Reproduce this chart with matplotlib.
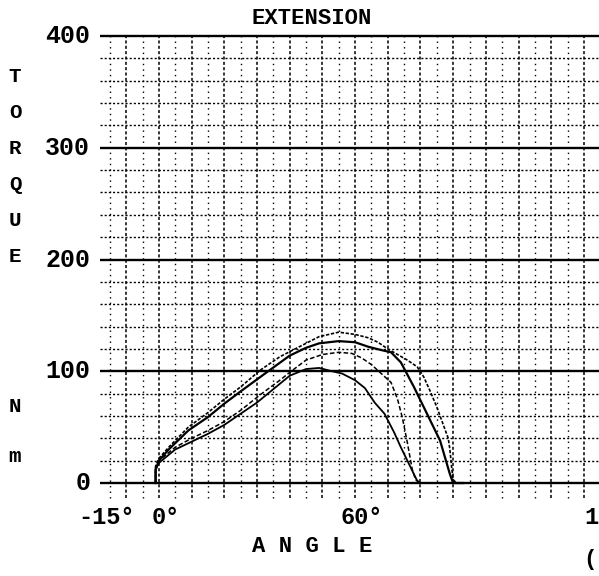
import matplotlib
matplotlib.use("Agg")
import matplotlib.pyplot as plt
import numpy as np

# Torque curves (angle in degrees, torque in Nm)
ang_a = [-1, -1, 0, 3, 9, 15, 20, 25, 31, 37, 43, 49, 55, 60, 64, 67, 70, 73, 76, 79, 81, 83, 85, 87, 88.5, 89, 89.5, 90, 91, 94]
tq_a = [0, 15, 22, 32, 50, 63, 75, 86, 101, 113, 122, 131, 135, 133, 130, 126, 120, 115, 110, 104, 95, 82, 68, 52, 40, 30, 15, 3, 0, 0]

ang_b = [-1, -1, 0, 3, 9, 15, 20, 25, 32, 40, 45, 49, 55, 60, 64, 68, 71, 74, 76, 78, 80, 82, 84, 86, 87, 88, 89, 90, 93]
tq_b = [0, 12, 20, 30, 47, 59, 71, 82, 97, 114, 121, 125, 127, 126, 122, 119, 117, 108, 97, 86, 74, 62, 50, 38, 28, 18, 8, 0, 0]

ang_c = [-1, -1, 0, 5, 10, 15, 20, 25, 31, 37, 40, 45, 50, 55, 59, 62, 65, 68, 71, 73, 74.5, 76, 77.5, 78.5, 80, 84]
tq_c = [0, 14, 20, 32, 40, 47, 55, 65, 79, 92, 99, 110, 115, 117, 116, 112, 106, 98, 90, 75, 58, 36, 12, 3, 0, 0]

ang_d = [-1, -1, 0, 5, 10, 15, 20, 25, 30, 35, 40, 45, 49, 53, 56, 60, 63, 66, 69, 72, 74, 76, 78, 79, 80, 83]
tq_d = [0, 12, 18, 30, 37, 44, 52, 62, 72, 84, 96, 102, 103, 100, 98, 92, 85, 72, 62, 45, 32, 20, 8, 2, 0, 0]

x_ticks = [-15, 0, 60, 120]
x_tick_labels = ['-15\u00b0', '0\u00b0', '60\u00b0', '1']
y_ticks = [0, 100, 200, 300, 400]
y_tick_labels = ['0', '100', '200', '300', '400']

W, H = 599, 576
fig = plt.figure(figsize=(W / 100, H / 100), dpi=100)
fig.patch.set_facecolor('white')

# axes box in pixels: x -18..134.6 -> 100..599, y -15..402 -> 500..34
ax = fig.add_axes([100 / W, 1 - 499.8 / H, 499 / W, 466 / H])
ax.set_xlim(-18, 134.6)
ax.set_ylim(-15, 402)
ax.axis('off')

font = 'Liberation Mono'

# grid: vertical lines every 5 deg, denser every 10
for g in range(-15, 135, 5):
    if g % 10 == 0:
        ax.vlines(g, -13, 400, colors='black', linewidth=1.1, linestyles=(0, (2, 1.5)))
    else:
        ax.vlines(g, -13, 400, colors='black', linewidth=1.0, linestyles=(0, (1, 3)))

# horizontal lines: minor every 20 Nm dotted, major every 100 Nm solid
for v in range(20, 400, 20):
    if v % 100 != 0:
        ax.hlines(v, -18, 135, colors='black', linewidth=1.0, linestyles=(0, (1.5, 1.5)))
for v in y_ticks:
    ax.hlines(v, -18, 135, colors='black', linewidth=1.7, clip_on=False)

# curves
ax.plot(ang_a, tq_a, color='black', linewidth=1.2, linestyle=(0, (2, 1)))
ax.plot(ang_b, tq_b, color='black', linewidth=1.6)
ax.plot(ang_c, tq_c, color='black', linewidth=1.1, linestyle=(0, (3, 1.5)))
ax.plot(ang_d, tq_d, color='black', linewidth=1.3)

# tick labels
for v, lab in zip(y_ticks, y_tick_labels):
    ax.text(-21, v, lab, ha='right', va='center', fontsize=18, family=font,
            fontweight='bold')
offsets = [-1, 2, 2, 0]
for t, lab, o in zip(x_ticks, x_tick_labels, offsets):
    ha = 'left' if lab == '1' else 'center'
    ax.text(t + o + (10 if ha == 'left' else 0), -31, lab, ha=ha, va='center',
            fontsize=17, family=font, fontweight='bold')

# titles / axis labels
fig.text(312 / W, 1 - 18 / H, 'EXTENSION', ha='center', va='center', fontsize=16,
         family=font, fontweight='bold')
fig.text(312 / W, 1 - 546 / H, 'A N G L E', ha='center', va='center', fontsize=16,
         family=font, fontweight='bold')
fig.text(583 / W, 1 - 560 / H, '(', ha='left', va='center', fontsize=16,
         family=font, fontweight='bold')
for i, ch in enumerate('TORQUE'):
    fig.text(15 / W, 1 - (77 + i * 36) / H, ch, ha='center', va='center',
             fontsize=15, family=font, fontweight='bold')
fig.text(15 / W, 1 - 407 / H, 'N', ha='center', va='center', fontsize=15,
         family=font, fontweight='bold')
fig.text(15 / W, 1 - 456 / H, 'm', ha='center', va='center', fontsize=15,
         family=font, fontweight='bold')

plt.savefig('out.png', dpi=100)
